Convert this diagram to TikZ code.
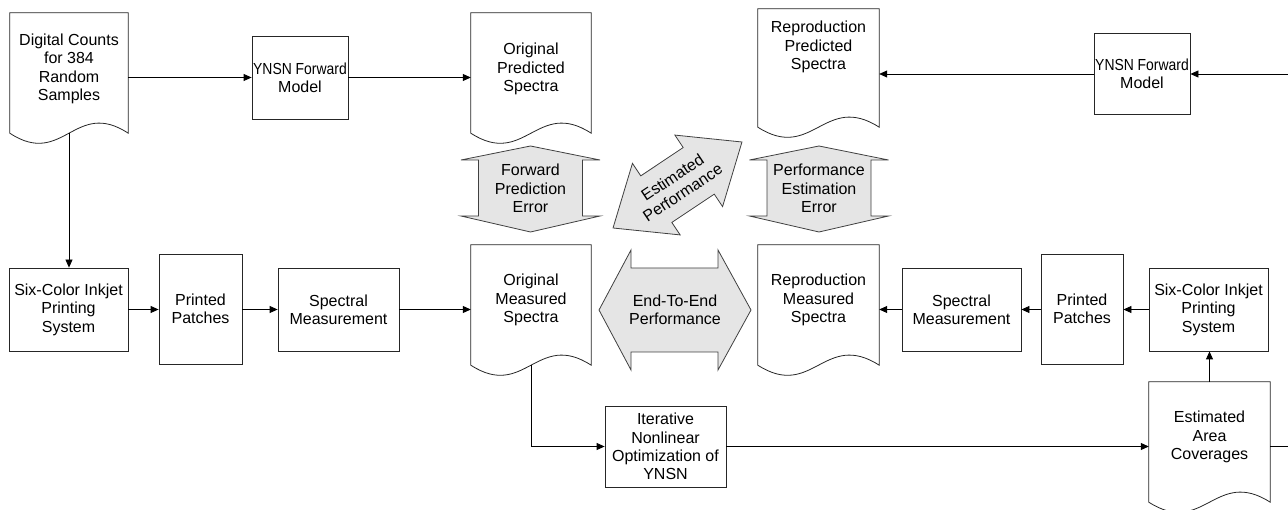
\documentclass[tikz,border=0pt]{standalone}
\usepackage{fontspec}
\usepackage{graphicx}
\setmainfont{Liberation Sans}
\usetikzlibrary{calc,arrows.meta}
\newcommand\docoutline[1]{%
  \draw[docline] (#1.south west) -- (#1.north west) -- (#1.north east) -- (#1.south east)
    .. controls ($(#1.south west)!0.55!(#1.south east)+(0,-35)$) and ($(#1.south west)!0.45!(#1.south east)+(0,35)$) .. (#1.south west) -- cycle;}
\newcommand\squeezed[1]{\scalebox{0.87}[1]{#1}}
\begin{document}
\begin{tikzpicture}[x=1pt,y=-1pt,
  every node/.style={font=\fontsize{16}{18.4}\selectfont, align=center, inner sep=0pt},
  box/.style n args={2}{draw=black!85, line width=0.8pt, fill=white, minimum width=#1pt, minimum height=#2pt},
  doc/.style n args={2}{minimum width=#1pt, minimum height=#2pt},
  docline/.style={draw=black!85, line width=0.8pt, fill=white},
  conn/.style={draw=black, line width=0.8pt, -{Triangle[length=8pt,width=7pt]}},
  plain/.style={draw=black, line width=0.8pt},
  bigarrow/.style={draw=black!75, fill=black!10, line width=0.8pt, line join=miter}]
\useasboundingbox (0,0) rectangle (1288,510);

% boxes
\node[box={96}{83}] (ynsn1) at (300,77.5) {\squeezed{YNSN Forward}\\Model};
\node[box={96}{81}] (ynsn2) at (1142,73.5) {\squeezed{YNSN Forward}\\Model};
\node[box={119}{83}] (six1) at (68.5,309.5) {Six-Color Inkjet\\Printing\\System};
\node[box={83}{110}] (pp1) at (200.5,309) {Printed\\Patches};
\node[box={121}{83}] (sm1) at (338.5,309.5) {Spectral\\Measurement};
\node[box={119}{83}] (sm2) at (961.5,309.5) {Spectral\\Measurement};
\node[box={82}{110}] (pp2) at (1082,309) {Printed\\Patches};
\node[box={119}{83}] (six2) at (1208.5,309.5) {Six-Color Inkjet\\Printing\\System};
\node[box={121}{81}] (iter) at (665.5,446.5) {Iterative\\Nonlinear\\Optimization of\\YNSN};

% documents
\node[doc={118}{120}] (dc) at (69,73) {};
\node[doc={120}{120}] (opd) at (531,73) {};
\node[doc={121}{118}] (rpd) at (818.5,68) {};
\node[doc={120}{120}] (omd) at (531,305) {};
\node[doc={121}{120}] (rmd) at (818.5,305) {};
\node[doc={121}{120}] (ead) at (1209.5,442) {};
\docoutline{dc}
\docoutline{opd}
\docoutline{rpd}
\docoutline{omd}
\docoutline{rmd}
\docoutline{ead}
\node (dct) at (69,69) {Digital Counts\\for 384\\Random\\Samples};
\node (opdt) at (531,69) {Original\\Predicted\\Spectra};
\node (rpdt) at (818.5,47) {Reproduction\\Predicted\\Spectra};
\node (omdt) at (531,300) {Original\\Measured\\Spectra};
\node (rmdt) at (818.5,300) {Reproduction\\Measured\\Spectra};
\node (eadt) at (1209.5,437) {Estimated\\Area\\Coverages};

% big grey arrows
\draw[bigarrow] (530.5,146) -- (600,160) -- (582.5,160) -- (582.5,216) -- (600,216) -- (530.5,232)
  -- (461,216) -- (478.5,216) -- (478.5,160) -- (461,160) -- cycle;
\node (fpe) at (530.5,188.5) {Forward\\Prediction\\Error};
\draw[bigarrow] (819,146) -- (888.5,160) -- (871,160) -- (871,216) -- (888.5,216) -- (819,232)
  -- (749.5,216) -- (767,216) -- (767,160) -- (749.5,160) -- cycle;
\node (pee) at (819,188.5) {Performance\\Estimation\\Error};
\draw[bigarrow] (599,310) -- (631,250) -- (631,268) -- (718,268) -- (718,250) -- (751,310)
  -- (718,370) -- (718,352) -- (631,352) -- (631,370) -- cycle;
\node (ete) at (675,310) {End-To-End\\Performance};
\begin{scope}[shift={(677.5,185)}, rotate=33.7]
  \draw[bigarrow] (77.5,0) -- (25.5,43) -- (25.5,28) -- (-25.5,28) -- (-25.5,43) -- (-77.5,0)
    -- (-25.5,-43) -- (-25.5,-28) -- (25.5,-28) -- (25.5,-43) -- cycle;
\end{scope}
\node[rotate=33.7] (ep) at (677.5,185) {Estimated\\Performance};

% connectors
\coordinate (re1) at (1288,446.5);
\coordinate (re2) at (1288,74);
\draw[conn] (dc.east |- ynsn1.west) -- (ynsn1.west);
\draw[conn] (ynsn1.east) -- (opd.west |- ynsn1.east);
\draw[conn] (dc.south) -- (dc.south |- six1.north);
\draw[conn] (six1.east) -- (pp1.west |- six1.east);
\draw[conn] (pp1.east |- sm1.west) -- (sm1.west);
\draw[conn] (sm1.east) -- (omd.west |- sm1.east);
\draw[conn] (omd.south) |- (iter.west);
\draw[conn] (iter.east) -- (ead.west |- iter.east);
\draw[conn] (ead.north) -- (ead.north |- six2.south);
\draw[conn] (six2.west) -- (pp2.east |- six2.west);
\draw[conn] (pp2.west |- sm2.east) -- (sm2.east);
\draw[conn] (sm2.west) -- (rmd.east |- sm2.west);
\draw[plain] (ead.east |- iter.east) -- (re1);
\draw[conn] (re2) -- (ynsn2.east |- re2);
\draw[conn] (ynsn2.west |- re2) -- (rpd.east |- re2);
\end{tikzpicture}
\end{document}
